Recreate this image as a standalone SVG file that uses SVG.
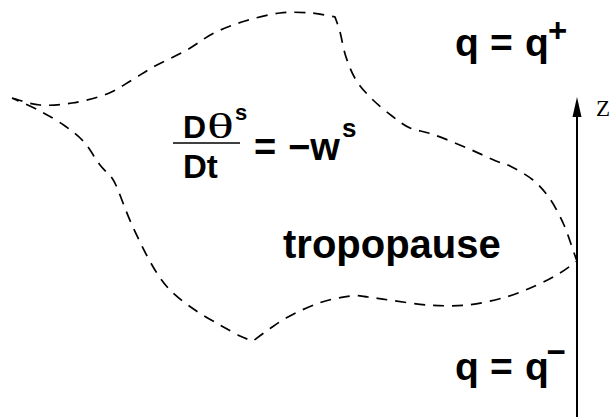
<svg xmlns="http://www.w3.org/2000/svg" width="610" height="417" viewBox="0 0 610 417">
<style>
.b{font-family:"Liberation Sans",Arial,sans-serif;font-weight:bold;fill:#000}
.sr{font-family:"Liberation Serif","Times New Roman",serif;fill:#000}
.dash{fill:none;stroke:#000;stroke-width:1.7;stroke-dasharray:11 8}
</style>
<rect width="610" height="417" fill="#fff"/>
<g id="connectors">
<path id="tropopause-curve" class="dash" d="M12,98 C16.7,99.2 30,104.2 40,105 C50,105.8 60.8,104.8 72,103 C83.2,101.2 97,97.8 107,94 C117,90.2 124,84.7 132,80 C140,75.3 145.8,71 155,66 C164.2,61 177.2,55.5 187,50 C196.8,44.5 204.3,37.8 214,33 C223.7,28.2 234,24.3 245,21 C256,17.7 269,14.3 280,13 C291,11.7 301.8,12.3 311,13 C320.2,13.7 331,16.3 335,17 C335.8,19.5 338.2,25.3 340,32 C341.8,38.7 343.3,49 346,57 C348.7,65 351.7,73 356,80 C360.3,87 366,93 372,99 C378,105 385.7,111.2 392,116 C398.3,120.8 403.3,125 410,128 C416.7,131 422.5,130.7 432,134 C441.5,137.3 456.3,143.5 467,148 C477.7,152.5 488.8,158 496,161 C503.2,164 503.8,162.8 510,166 C516.2,169.2 526.3,174.5 533,180 C539.7,185.5 544.8,191.5 550,199 C555.2,206.5 560.2,216.5 564,225 C567.8,233.5 570.8,244 573,250 C575.2,256 576.3,259.2 577,261 C574.2,263 566.7,269 560,273 C553.3,277 546,281 537,285 C528,289 517.7,293.7 506,297 C494.3,300.3 480,303.7 467,305 C454,306.3 441,305.8 428,305 C415,304.2 399,301.3 389,300 C379,298.7 374.5,297.7 368,297 C361.5,296.3 358.2,295 350,296 C341.8,297 329.3,299.5 319,303 C308.7,306.5 296.5,312.5 288,317 C279.5,321.5 273.8,326 268,330 C262.2,334 255.5,339.2 253,341 C250.8,340.2 245.5,338.7 240,336 C234.5,333.3 227.5,329.3 220,325 C212.5,320.7 203.3,315.8 195,310 C186.7,304.2 177.2,297.5 170,290 C162.8,282.5 158.3,275.8 152,265 C145.7,254.2 137.7,237.5 132,225 C126.3,212.5 121.3,197.8 118,190 C114.7,182.2 115,182.2 112,178 C109,173.8 104.7,171 100,165 C95.3,159 89.8,148.5 84,142 C78.2,135.5 72.3,131.2 65,126 C57.7,120.8 48.8,115.7 40,111 C31.2,106.3 16.7,100.2 12,98"/>
<line id="z-axis" x1="577" y1="417" x2="577" y2="112" stroke="#000" stroke-width="2"/>
<polygon points="577,97 572.5,117 581.5,117" fill="#000"/>
</g>
<g id="z-label"><text class="sr" x="596" y="115.5" font-size="23">Z</text></g>
<g id="q-plus">
<text class="b" font-size="39" y="56"><tspan x="455">q</tspan><tspan x="490">=</tspan><tspan x="525">q</tspan></text>
<text class="b" font-size="33" x="548" y="42">+</text>
</g>
<g id="q-minus">
<text class="b" font-size="39" y="380"><tspan x="455">q</tspan><tspan x="490">=</tspan><tspan x="525">q</tspan></text>
<text class="b" font-size="33" x="546.5" y="363">−</text>
</g>
<g id="equation">
<text class="b" font-size="32" x="183" y="138">D</text>
<text class="sr" font-size="35" transform="translate(207 138) scale(1.6 1)" x="0" y="0">θ</text>
<text class="b" font-size="22" x="235" y="120">s</text>
<line x1="173" y1="143" x2="240" y2="143" stroke="#000" stroke-width="1.6"/>
<text class="b" font-size="33" x="183" y="178">Dt</text>
<text class="b" font-size="38" y="160"><tspan x="254">=</tspan><tspan x="288">−w</tspan></text>
<text class="b" font-size="26" x="342" y="137">s</text>
</g>
<g id="tropopause-label"><text class="b" font-size="40" x="283" y="258">tropopause</text></g>
</svg>
